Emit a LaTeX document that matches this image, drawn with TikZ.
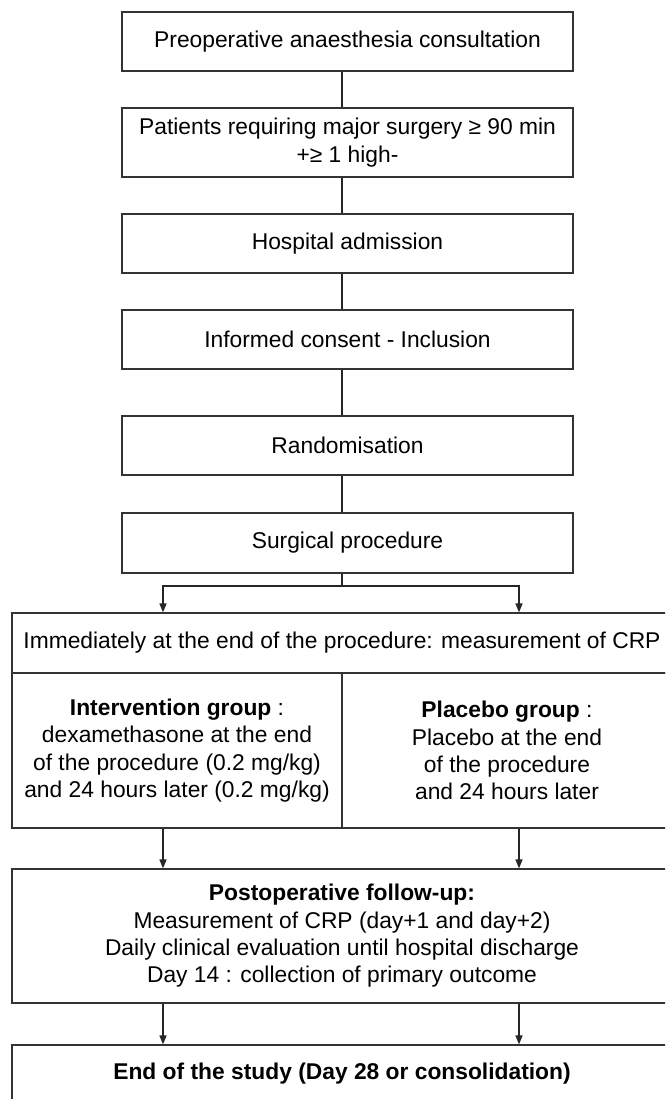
\documentclass[tikz,border=0pt]{standalone}
\usepackage{fontspec}
\setmainfont{Liberation Sans}
\usetikzlibrary{arrows.meta}

\begin{document}
\begin{tikzpicture}[x=1pt, y=-1pt,
    box/.style={draw=black!80, line width=1.2pt, rectangle, inner sep=0pt, align=center,
        font=\fontsize{22.8}{27.3}\selectfont},
    narrow/.style={box, minimum width=451pt, minimum height=59pt},
    conn/.style={draw=black!85, line width=1.4pt},
    arr/.style={conn, -{Triangle[length=9pt,width=7pt]}}]

    % Fix the size of the picture
    \useasboundingbox (0,0) rectangle (665,1099);
    \clip (0,0) rectangle (665,1099);

    % Draw the narrow boxes of the steps before surgery
    \node[narrow] (preop) at (347.5,41.5) {Preoperative anaesthesia consultation};
    \node[narrow, minimum height=69pt] (patients) at (347.5,142.5) {Patients requiring major surgery ≥ 90 min\\+≥ 1 high-};
    \node[narrow] (admit) at (347.5,243.5) {Hospital admission};
    \node[narrow] (consent) at (347.5,339.5) {Informed consent - Inclusion};
    \node[narrow] (random) at (347.5,445.5) {Randomisation};
    \node[narrow, minimum height=60pt] (surg) at (347.5,543) {Surgical procedure};

    % Draw the wide boxes
    \node[box, minimum width=660pt, minimum height=60pt] (immed) at (342,643) {Immediately at the end of the procedure: measurement of CRP};
    \node[box, minimum width=330pt, minimum height=155pt] (interv) at (177,750.5) {\textbf{Intervention group} :\\dexamethasone at the end\\of the procedure (0.2 mg/kg)\\and 24 hours later (0.2 mg/kg)};
    \node[box, minimum width=330pt, minimum height=155pt] (placebo) at (507,750.5) {\textbf{Placebo group} :\\Placebo at the end\\of the procedure\\and 24 hours later};
    \node[box, minimum width=660pt, minimum height=134pt] (postop) at (342,936) {\textbf{Postoperative follow-up:}\\Measurement of CRP (day+1 and day+2)\\Daily clinical evaluation until hospital discharge\\Day 14 : collection of primary outcome};
    \node[box, minimum width=660pt, minimum height=58pt] (endst) at (342,1074) {\textbf{End of the study (Day 28 or consolidation)}};

    % Columns of the connectors
    \coordinate (mid) at (342,0);
    \coordinate (colL) at (163,0);
    \coordinate (colR) at (519,0);
    \coordinate (split) at (342,586);

    % Draw the lines between the narrow boxes
    \foreach \a/\b in {preop/patients, patients/admit, admit/consent, consent/random, random/surg} {
        \draw[conn] (\a.south -| mid) -- (\b.north -| mid);
    }

    % Draw the split into the two groups
    \draw[conn] (surg.south -| mid) -- (split);
    \draw[arr] (split) -| (immed.north -| colL);
    \draw[arr] (split) -| (immed.north -| colR);

    % Draw the arrows to the follow-up and the end
    \draw[arr] (interv.south -| colL) -- (postop.north -| colL);
    \draw[arr] (placebo.south -| colR) -- (postop.north -| colR);
    \draw[arr] (postop.south -| colL) -- (endst.north -| colL);
    \draw[arr] (postop.south -| colR) -- (endst.north -| colR);

\end{tikzpicture}
\end{document}
